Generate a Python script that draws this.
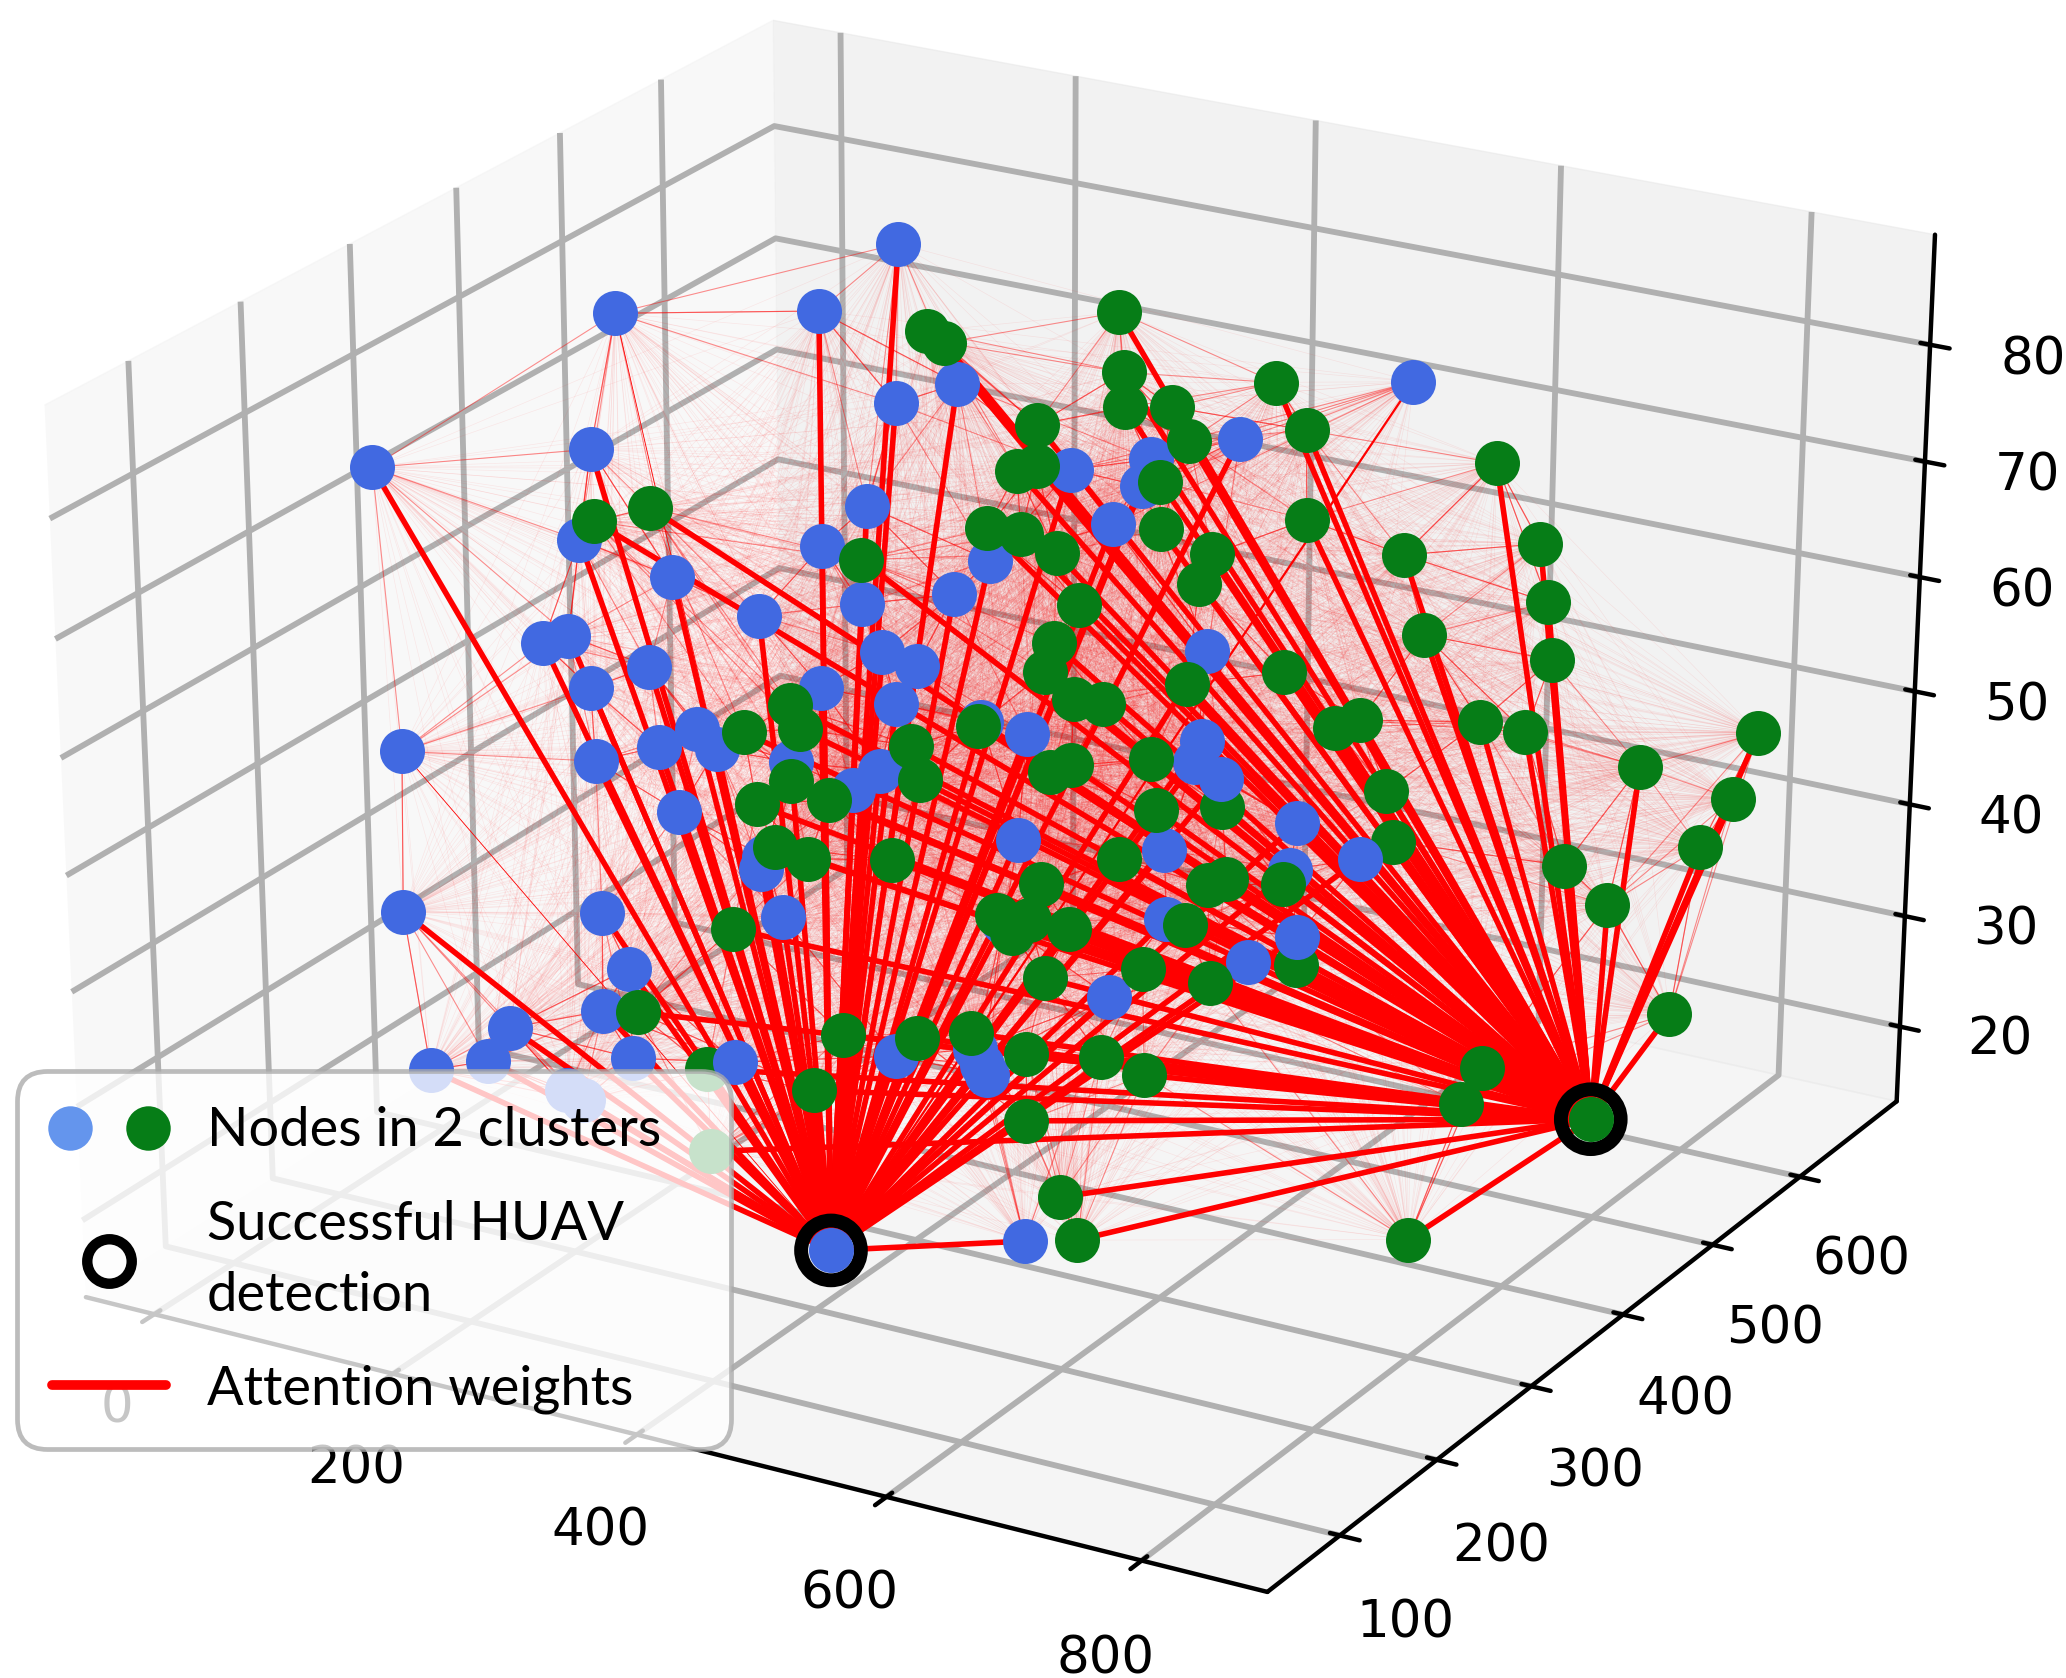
import numpy as np, matplotlib
matplotlib.use('Agg')
import matplotlib.pyplot as plt, seaborn as sns
from matplotlib.lines import Line2D
from matplotlib.legend_handler import HandlerTuple
from mpl_toolkits.mplot3d.art3d import Line3DCollection

blue_x=[225,91,259,321,371,671,-45,68,596,462,526,519,496,297,57,260,135,397,292,368,207,24,46,114,64,309,337,258,320,572,-27,67,121,154,170,390,427,568,232,563,306,284,137,645,420,539,209,206,640,-30,70,224,541,408,607,92,495,69,-12,4,-10,94,318,384,390,394,72,85,490]
blue_y=[500,380,380,380,380,460,300,380,380,380,380,380,380,380,380,380,380,380,380,380,380,380,380,380,380,380,380,380,380,380,300,380,380,380,380,380,380,380,380,380,380,380,380,380,380,380,380,380,380,300,380,380,380,380,380,380,380,380,380,340,300,380,380,380,380,380,340,340,300]
blue_z=[85.4,82.6,86.2,79.7,82.4,84.8,70.6,70.5,82.5,77.1,79.3,76.9,73.2,70.5,62.4,66.3,60.9,68.0,62.0,64.5,59.1,52.7,53.8,52.6,49.6,58.2,57.6,54.0,54.0,64.2,46.3,43.2,45.7,48.0,46.6,54.0,53.8,56.4,46.9,54.5,47.8,45.6,40.3,51.1,44.4,46.3,38.0,36.8,47.0,32.0,29.7,33.0,40.4,36.9,38.2,25.2,32.4,20.8,17.3,17.0,18.2,17.1,22.8,25.1,23.8,23.0,16.0,15.4,15.4]
front_x=[584,695,646,182]
front_y=[380,380,380,380]
front_z=[53.5,49.2,41.3,18.9]
green_x=[437,347,360,504,505,593,542,435,556,648,419,435,533,795,70,117,395,422,451,534,649,725,830,575,565,292,469,837,449,742,442,556,633,841,465,489,232,240,193,387,674,693,787,822,864,332,528,463,446,883,232,339,203,264,715,532,585,873,218,246,316,502,721,876,855,439,574,589,634,861,182,403,429,415,462,556,646,522,442,577,884,99,274,336,381,427,488,524,795,158,249,779,427,229,487,533,739]
green_y=[460,380,380,380,380,420,380,380,380,380,380,380,380,380,380,380,380,380,380,380,380,380,380,380,380,380,380,380,380,380,380,380,380,380,380,380,380,380,380,380,380,380,380,380,580,380,380,380,380,420,380,380,380,380,380,380,380,540,380,380,380,380,380,500,380,380,380,380,380,420,380,380,380,380,380,380,380,380,380,380,460,380,380,380,380,380,380,380,380,380,380,380,380,300,340,300,380]
green_z=[85.8,86.3,85.6,86.1,83.2,85.1,84.0,80.3,81.5,84.3,76.1,76.8,77.6,84.7,64.3,66.5,70.7,70.8,69.8,73.6,76.9,75.6,78.8,72.4,69.7,65.8,65.8,74.1,62.1,69.3,59.5,61.0,63.7,69.4,57.7,57.8,51.9,50.0,48.6,53.6,59.9,61.0,63.0,62.9,52.9,50.6,53.9,51.9,50.9,59.2,45.2,47.8,42.5,44.3,55.5,49.6,51.1,49.6,39.1,38.7,40.2,44.7,51.3,47.7,52.4,41.0,44.1,45.0,45.6,46.9,30.9,37.4,37.6,36.1,37.6,40.2,38.9,35.5,32.8,35.6,35.7,21.4,23.6,24.9,26.4,25.7,26.9,26.2,33.5,17.7,18.0,30.0,19.7,16.8,16.8,16.6,17.0]
head_x=[396,881]
head_y=[220,380]
head_z=[17.1,31.2]
x_ticks=[0,200,400,600,800]
y_ticks=[100,200,300,400,500,600]
z_ticks=[20,30,40,50,60,70,80]
weak_blue=[1,30]
medium_blue=[5]
legend_labels=['Nodes in 2 clusters','Successful HUAV\ndetection','Attention weights']

sns.set_style('white')
BLUE,GREEN=sns.color_palette(['#4169E1','#067d17'])
plt.rcParams.update({'axes3d.grid':True,'grid.color':'#b0b0b0','grid.linewidth':4.2,'axes.linewidth':3.2,
  'xtick.major.width':3.2,'ytick.major.width':3.2,'font.size':37,'font.family':['DejaVu Sans'],
  'axes.edgecolor':'black','xtick.color':'k','ytick.color':'k','text.color':'k'})
W,H=2066,1678
fig=plt.figure(figsize=(W/100,H/100),dpi=100)
ax=fig.add_subplot(projection='3d',computed_zorder=False)
ax.view_init(26.0,-59.93);ax.set_box_aspect((4,4,3.4))
ax.set_xlim(-58.13,896.89);ax.set_ylim(27.01,714.01);ax.set_zlim(13.18,89.32)
L,R,T,B=-105.0,2062.5,-129.0,1713.4
ax.apply_aspect=lambda position=None:None
ax.set_position([L/W,1-B/H,(R-L)/W,(B-T)/H])
ax.set_xticks(x_ticks);ax.set_yticks(y_ticks);ax.set_zticks(z_ticks)
ax.tick_params(axis='x',pad=31);ax.tick_params(axis='y',pad=32);ax.tick_params(axis='z',pad=35)

bl=np.c_[blue_x+front_x,blue_y+front_y,blue_z+front_z].astype(float)
gr=np.c_[green_x,green_y,green_z].astype(float)
hd=np.c_[head_x,head_y,head_z].astype(float)
cl=[np.vstack([bl,hd[:1]]),np.vstack([gr,hd[1:]])]

# faint attention mesh within each cluster, stronger to the nearest neighbours
faint=[];mid=[]
for pts in cl:
    n=len(pts);sc=(pts-pts.min(0))/np.ptp(pts,axis=0)
    D=np.linalg.norm(sc[:,None]-sc[None],axis=2)
    for i in range(n):
        order=np.argsort(D[i])
        for k,j in enumerate(order[1:]):
            if j>i: faint.append((pts[i],pts[j]))
            if k<5: mid.append((pts[i],pts[j]))
ax.add_collection3d(Line3DCollection(faint,colors='red',linewidths=0.5,alpha=0.07,zorder=1))
ax.add_collection3d(Line3DCollection(mid,colors='red',linewidths=0.8,alpha=0.4,zorder=1))

segs=[];lws=[]
for i,p in enumerate(bl):
    segs.append((hd[0],p));lws.append(0.6 if i in weak_blue else 1.6 if i in medium_blue else 4.0)
for p in gr:
    segs.append((hd[1],p));lws.append(4.0)
ax.add_collection3d(Line3DCollection(segs,colors='red',linewidths=lws,zorder=2))

S=1050
ax.scatter(blue_x,blue_y,blue_z,s=S,color=BLUE,depthshade=False,linewidths=0,zorder=3)
ax.scatter(green_x,green_y,green_z,s=S,color=GREEN,depthshade=False,linewidths=0,zorder=4)
ax.scatter(front_x,front_y,front_z,s=S,color=BLUE,depthshade=False,linewidths=0,zorder=5)
ax.scatter(head_x,head_y,head_z,s=1850,facecolors='none',edgecolors='k',linewidths=10,depthshade=False,zorder=6)
ax.scatter(head_x[:1],head_y[:1],head_z[:1],s=S,color=BLUE,depthshade=False,linewidths=0,zorder=7)
ax.scatter(head_x[1:],head_y[1:],head_z[1:],s=S,color=GREEN,depthshade=False,linewidths=0,zorder=7)

h1=Line2D([],[],ls='',marker='o',ms=32,mfc='#6495ED',mec='none')
h2=Line2D([],[],ls='',marker='o',ms=32,mfc=GREEN,mec='none')
h3=Line2D([],[],ls='',marker='o',ms=32,mfc='none',mec='k',mew=7.5)
h4=Line2D([],[],color='red',lw=7)
leg=fig.legend([(h1,h2),h3,h4],legend_labels,handler_map={tuple:HandlerTuple(ndivide=None,pad=0.8)},
  loc='lower left',bbox_to_anchor=(17/W,1-1449/H,714/W,0),bbox_transform=fig.transFigure,borderaxespad=0,mode='expand',
  prop={'family':'Lato','size':39},frameon=True,framealpha=0.78,edgecolor='#aaaaaa',facecolor='white',
  handlelength=2.1,handletextpad=0.75,labelspacing=0.82,borderpad=0.65,fancybox=True)
leg.get_frame().set_linewidth(3.4)
leg.get_frame().set_boxstyle('round',pad=0,rounding_size=0.55)
leg.get_texts()[1].set_linespacing(1.55)
fig.savefig('out.png',dpi=100)
